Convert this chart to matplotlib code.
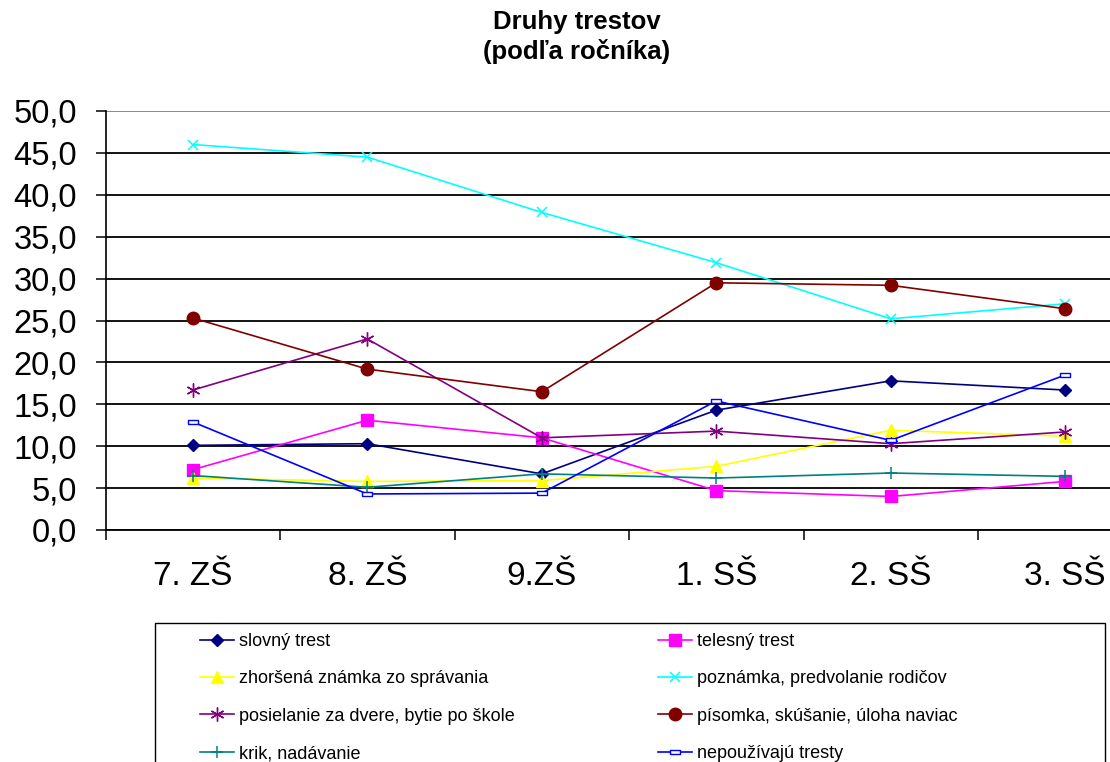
import matplotlib

matplotlib.use("Agg")
import matplotlib.pyplot as plt
import numpy as np
from matplotlib.patches import Rectangle
from matplotlib.ticker import FixedLocator, FuncFormatter

plt.rcParams["font.family"] = ["Liberation Sans", "DejaVu Sans"]

# Data
grades = ["7. ZŠ", "8. ZŠ", "9.ZŠ", "1. SŠ", "2. SŠ", "3. SŠ"]

slovny = [10.1, 10.3, 6.7, 14.3, 17.8, 16.7]
telesny = [7.2, 13.1, 11.0, 4.7, 4.0, 5.8]
zhorsena = [6.2, 5.8, 5.9, 7.6, 11.9, 11.2]
poznamka = [46.0, 44.5, 37.9, 31.9, 25.2, 27.0]
posielanie = [16.7, 22.8, 11.0, 11.8, 10.3, 11.7]
pisomka = [25.3, 19.2, 16.5, 29.5, 29.2, 26.4]
krik = [6.5, 5.1, 6.7, 6.2, 6.8, 6.4]
nepouzivaju = [12.9, 4.3, 4.4, 15.4, 10.7, 18.5]

y_ticks = [0, 5, 10, 15, 20, 25, 30, 35, 40, 45, 50]

dash = [(-1, -0.35), (1, -0.35), (1, 0.35), (-1, 0.35), (-1, -0.35)]

series = [
    ("slovný trest", slovny, "#000080", dict(marker="D", ms=6.5)),
    ("telesný trest", telesny, "#FF00FF", dict(marker="s", ms=8)),
    ("zhoršená známka zo správania", zhorsena, "#FFFF00", dict(marker="^", ms=8.5)),
    ("poznámka, predvolanie rodičov", poznamka, "#00FFFF", dict(marker="x", ms=7, mew=1.1)),
    ("posielanie za dvere, bytie po škole", posielanie, "#800080",
     dict(marker=(6, 2, 0), ms=10, mew=1.0)),
    ("písomka, skúšanie, úloha naviac", pisomka, "#800000", dict(marker="o", ms=9)),
    ("krik, nadávanie", krik, "#008080", dict(marker="+", ms=9, mew=1.1)),
    ("nepoužívajú tresty", nepouzivaju, "#0000FF",
     dict(marker=dash, ms=7, mfc="white", mew=1.0)),
]

fig = plt.figure(figsize=(11.1, 7.62), dpi=100)
ax = fig.add_axes([105.5 / 1110, 1 - 530 / 762, 1047 / 1110, 419 / 762])

x = np.arange(len(grades))
handles = []
for label, vals, color, mk in series:
    (h,) = ax.plot(x, vals, color=color, lw=1.2, label=label, mec=color,
                   **({"mfc": color} | mk), clip_on=False, zorder=3)
    handles.append(h)

# gridlines
for t in y_ticks:
    ax.axhline(t, color="#808080" if t == 50 else "black", lw=1.3, zorder=1)

ax.set_xlim(-0.5, len(grades) - 0.5)
ax.set_ylim(0, 50)
ax.set_yticks(y_ticks)
ax.yaxis.set_major_formatter(FuncFormatter(lambda v, p: f"{v:.1f}".replace(".", ",")))
ax.set_xticks(x, grades)
ax.xaxis.set_minor_locator(FixedLocator(np.arange(-0.5, len(grades), 1.0)))
ax.tick_params(axis="x", which="major", length=0, labelsize=24, pad=22)
ax.tick_params(axis="x", which="minor", length=7.5, width=1.1, color="black")
ax.tick_params(axis="y", length=7.5, width=1.1, labelsize=23.5, pad=13)

for s in ["top", "right"]:
    ax.spines[s].set_visible(False)
ax.spines["left"].set_linewidth(1.2)
ax.spines["bottom"].set_linewidth(1.3)

fig.text(577 / 1110, 1 - 37 / 762, "Druhy trestov\n(podľa ročníka)", ha="center",
         va="center", fontsize=18.5, fontweight="bold", linespacing=1.2)

# legend box (clipped at the bottom of the figure)
fig.patches.append(Rectangle((155 / 1110, -0.05), 950 / 1110, 1 - 623 / 762 + 0.05,
                             transform=fig.transFigure, fill=False, ec="black", lw=1.0))

order = [0, 2, 4, 6, 1, 3, 5, 7]
fig.legend([handles[i] for i in order], [series[i][0] for i in order],
           loc="upper left", bbox_to_anchor=(200 / 1110, 1 - 633 / 762),
           ncol=2, frameon=False, fontsize=13, handlelength=1.9, handletextpad=0.25,
           labelspacing=1.13, columnspacing=7.95, borderaxespad=0, borderpad=0)

fig.savefig("out.png", dpi=100)
